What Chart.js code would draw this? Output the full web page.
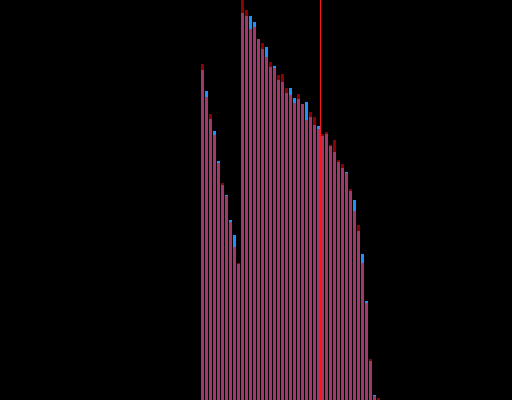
<!DOCTYPE html>
<html>
<head>
<meta charset="utf-8">
<script src="https://cdn.jsdelivr.net/npm/chart.js@4/dist/chart.umd.min.js"></script>
<style>
  html, body { margin: 0; padding: 0; background: #000; }
  #wrap { width: 512px; height: 400px; }
</style>
</head>
<body>
<div id="wrap"><canvas id="hist-chart" width="512" height="400"></canvas></div>
<script>
// ── DATA ──────────────────────────────────
// bin index for each bar
const bins = Array.from({ length: 45 }, (_, i) => i);

// red histogram (counts per bin)
const seriesRed = [
  336, 303, 286, 265, 237, 217, 204, 178, 153, 137,
  400, 390, 371, 373, 361, 357, 343, 338, 332, 325,
  326, 312, 305, 297, 306, 296, 280, 288, 283, 271,
  266, 268, 255, 260, 240, 236, 227, 211, 189, 175,
  137, 97, 41, 4, 2
];

// blue histogram (counts per bin)
const seriesBlue = [
  330, 309, 281, 269, 239, 215, 205, 180, 165, 136,
  387, 384, 384, 378, 361, 351, 353, 333, 334, 320,
  318, 307, 312, 302, 301, 296, 298, 283, 275, 274,
  264, 266, 254, 248, 238, 232, 228, 209, 200, 169,
  146, 99, 39, 5, 0
];

// threshold sits between bin 29 and bin 30
const threshold = 29.5;

// ── COLOURS ───────────────────────────────
const COL_RED = '#8b0000';
const COL_BLUE = '#1e90ff';
const COL_OVERLAP = '#a0386a';
const COL_LINE = '#ff1414';

// overlap of the two histograms
const overlap = bins.map(i => Math.min(seriesRed[i], seriesBlue[i]));

const toPoints = (vals) => bins.map(i => ({ x: i, y: vals[i] }));

// 3px bars, no inflating so the 1px gaps stay sharp
const barStyle = {
  type: 'bar',
  barThickness: 3,
  borderWidth: 0,
  inflateAmount: 0,
  grouped: false
};

new Chart(document.getElementById('hist-chart'), {
  data: {
    datasets: [
      // lower order is drawn last, i.e. on top
      {
        type: 'line',
        label: 'Threshold',
        data: [{ x: threshold, y: 0 }, { x: threshold, y: 400 }],
        borderColor: COL_LINE,
        borderWidth: 1,
        pointRadius: 0,
        order: -1
      },
      { ...barStyle, label: 'Overlap', data: toPoints(overlap), backgroundColor: COL_OVERLAP, order: 0 },
      { ...barStyle, label: 'Red', data: toPoints(seriesRed), backgroundColor: COL_RED, order: 1 },
      { ...barStyle, label: 'Blue', data: toPoints(seriesBlue), backgroundColor: COL_BLUE, order: 2 }
    ]
  },
  options: {
    responsive: false,
    animation: false,
    layout: { padding: 0 },
    plugins: {
      legend: { display: false },
      tooltip: { enabled: false }
    },
    scales: {
      x: {
        type: 'linear',
        bounds: 'data',
        min: -50.625,
        max: 77.375,
        offset: false,
        display: false
      },
      y: {
        min: 0,
        max: 400,
        display: false
      }
    }
  }
});
</script>
</body>
</html>
